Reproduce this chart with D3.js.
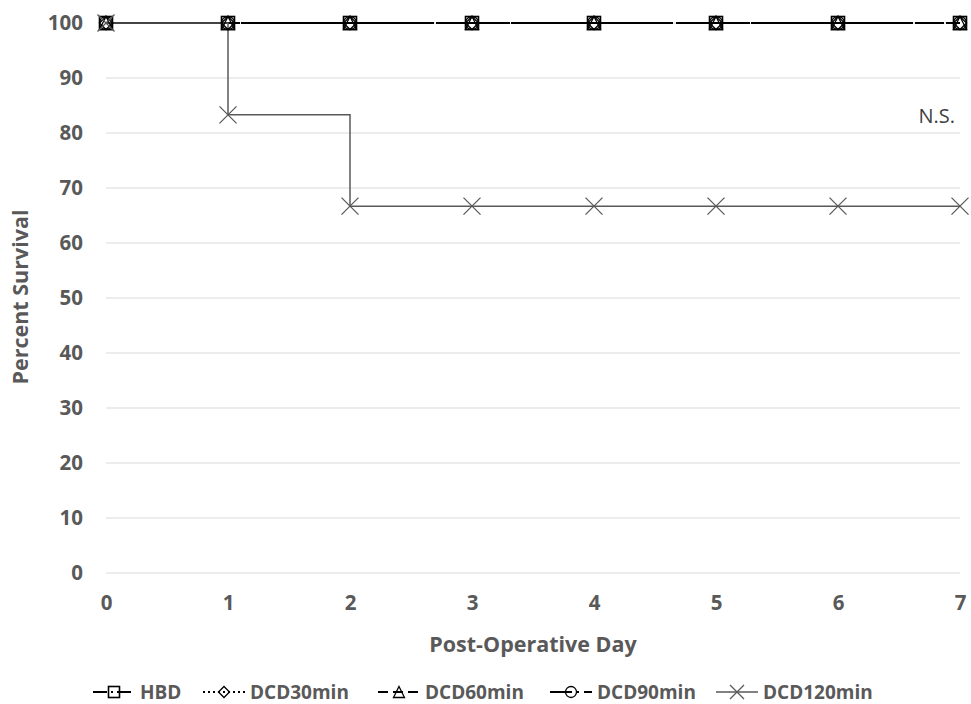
<!DOCTYPE html>
<html><head><meta charset="utf-8">
<script src="https://cdn.jsdelivr.net/npm/d3@7"></script>
<style>body{margin:0;background:#fff}</style>
</head><body><svg id="c" width="971" height="704"></svg>
<script>
const days = [0,1,2,3,4,5,6,7];
const yTicks = [0,10,20,30,40,50,60,70,80,90,100];
const seriesNames = ["HBD","DCD30min","DCD60min","DCD90min","DCD120min"];
const HBD = [100,100,100,100,100,100,100,100];
const DCD30min = [100,100,100,100,100,100,100,100];
const DCD60min = [100,100,100,100,100,100,100,100];
const DCD90min = [100,100,100,100,100,100,100,100];
const DCD120min = [100,83.3,66.7,66.7,66.7,66.7,66.7,66.7];
const seriesValues = [HBD,DCD30min,DCD60min,DCD90min,DCD120min];
const annotation = "N.S.";

const styles = [
  {dash:"14,4,2,4", w:2.2, color:"#000", marker:"square"},
  {dash:"2,3", w:2, color:"#000", marker:"diamond"},
  {dash:"10,5", w:2.2, color:"#000", marker:"triangle"},
  {dash:"22,5,2,5", w:2.2, color:"#000", marker:"circle"},
  {dash:null, w:1.5, color:"#595959", marker:"x"}
];

const svg = d3.select("#c");
const x = d3.scaleLinear().domain([0,7]).range([106,960]);
const y = d3.scaleLinear().domain([0,100]).range([573,23]);
const font = "'Open Sans', 'Noto Sans', sans-serif";

// gridlines
svg.append("g").selectAll("line").data(yTicks).join("line")
  .attr("x1",x(0)).attr("x2",x(7))
  .attr("y1",d=>y(d)).attr("y2",d=>y(d))
  .attr("stroke","#d9d9d9").attr("stroke-width",1);

// y axis labels
const yAxis = d3.axisLeft(y).tickValues(yTicks).tickSize(0).tickPadding(23);
const gy = svg.append("g").attr("transform",`translate(${x(0)},0)`).call(yAxis);
gy.select(".domain").remove();
gy.selectAll("text").attr("font-family",font).attr("font-size",20.5).attr("font-weight","bold").attr("fill","#595959");

const xAxis = d3.axisBottom(x).tickValues(days).tickFormat(d3.format("d")).tickSize(0).tickPadding(22);
const gx = svg.append("g").attr("transform",`translate(0,${y(0)})`).call(xAxis);
gx.select(".domain").remove();
gx.selectAll("text").attr("font-family",font).attr("font-size",20.5).attr("font-weight","bold").attr("fill","#595959");

svg.append("text").attr("x",533).attr("y",652).attr("text-anchor","middle")
  .attr("font-family",font).attr("font-size",21.5).attr("font-weight","bold").attr("fill","#595959")
  .text("Post-Operative Day");
svg.append("text").attr("transform","translate(28,297) rotate(-90)").attr("text-anchor","middle")
  .attr("font-family",font).attr("font-size",21.5).attr("font-weight","bold").attr("fill","#595959")
  .text("Percent Survival");

svg.append("text").attr("x",955).attr("y",123).attr("text-anchor","end")
  .attr("font-family",font).attr("font-size",20).attr("fill","#404040").text(annotation);

function drawMarker(g, type, cx, cy, color, s){
  if(type==="square") g.append("rect").attr("x",cx-s).attr("y",cy-s).attr("width",2*s).attr("height",2*s).attr("fill","none").attr("stroke",color).attr("stroke-width",1.6);
  else if(type==="diamond") g.append("path").attr("d",`M${cx},${cy-s}L${cx+s},${cy}L${cx},${cy+s}L${cx-s},${cy}Z`).attr("fill","none").attr("stroke",color).attr("stroke-width",1.3);
  else if(type==="triangle") g.append("path").attr("d",`M${cx},${cy-s}L${cx+s},${cy+s}L${cx-s},${cy+s}Z`).attr("fill","none").attr("stroke",color).attr("stroke-width",1.3);
  else if(type==="circle") g.append("circle").attr("cx",cx).attr("cy",cy).attr("r",s).attr("fill","none").attr("stroke",color).attr("stroke-width",1.3);
  else if(type==="x") g.append("path").attr("d",`M${cx-s},${cy-s}L${cx+s},${cy+s}M${cx-s},${cy+s}L${cx+s},${cy-s}`).attr("stroke",color).attr("stroke-width",1.3);
}

const line = d3.line().x((d,i)=>x(days[i])).y(d=>y(d)).curve(d3.curveStepAfter);
seriesValues.forEach((vals,si)=>{
  const st = styles[si];
  const p = svg.append("path").datum(vals).attr("d",line).attr("fill","none")
    .attr("stroke",st.color).attr("stroke-width",st.w);
  if(st.dash) p.attr("stroke-dasharray",st.dash);
});
seriesValues.forEach((vals,si)=>{
  const st = styles[si];
  const g = svg.append("g");
  vals.forEach((v,i)=>drawMarker(g, st.marker, x(days[i]), y(v), st.color, st.marker==="x"?8.5:6.5));
});

// legend
const legX = [93,203,378,550,716];
seriesNames.forEach((n,i)=>{
  const st = styles[i];
  const lx = legX[i], ly = 692;
  const g = svg.append("g");
  const l = g.append("line").attr("x1",lx).attr("x2",lx+42).attr("y1",ly).attr("y2",ly)
    .attr("stroke",st.color).attr("stroke-width",st.w);
  if(st.dash) l.attr("stroke-dasharray",st.dash);
  drawMarker(g, st.marker, lx+21, ly, st.color, st.marker==="x"?7:5.5);
  g.append("text").attr("x",lx+47).attr("y",ly+7).attr("font-family",font)
    .attr("font-size",19).attr("font-weight","bold").attr("fill","#595959").text(n);
});
</script></body></html>
